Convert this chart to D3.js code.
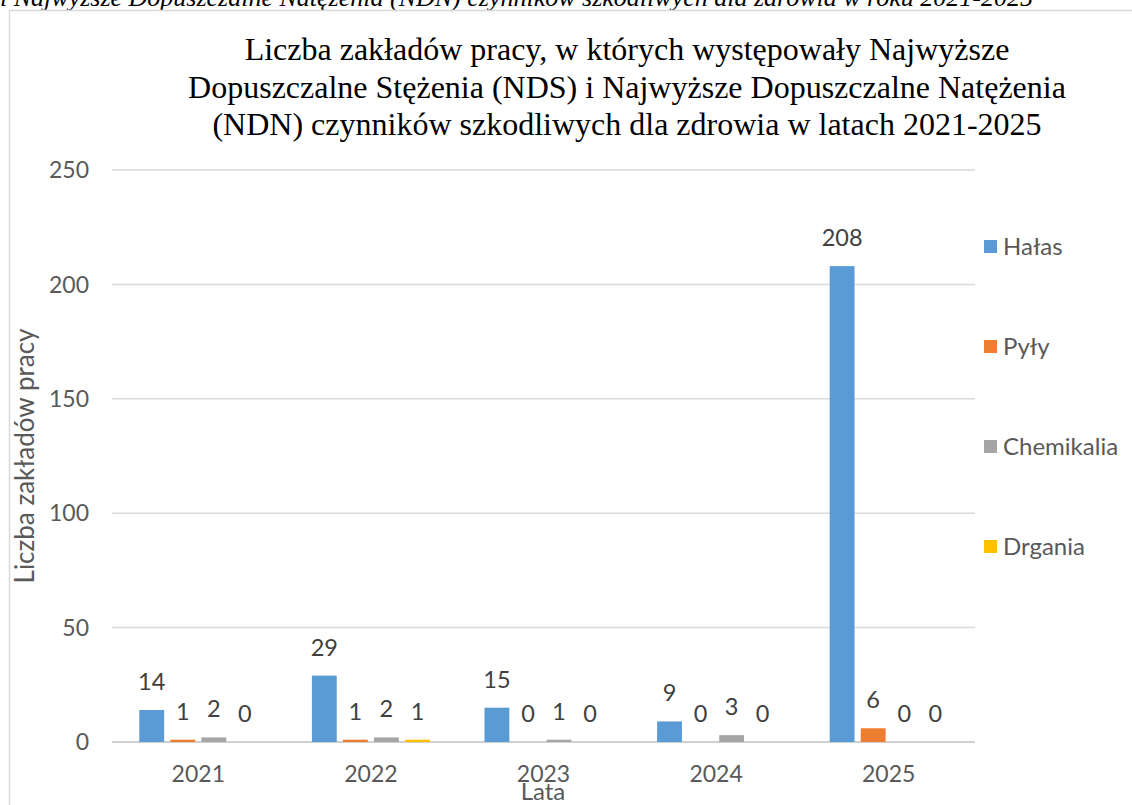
<!DOCTYPE html>
<html>
<head>
<meta charset="utf-8">
<script src="https://cdn.jsdelivr.net/npm/d3@7"></script>
<style>
  body { margin: 0; background: #fff; overflow: hidden; }
  svg { display: block; }
</style>
</head>
<body>
<svg id="chart" width="1132" height="805"></svg>
<script>
/** ------------- DATA -------------- */
const years = ["2021", "2022", "2023", "2024", "2025"];
const seriesNames = ["Hałas", "Pyły", "Chemikalia", "Drgania"];
const halas = [14, 29, 15, 9, 208];
const pyly = [1, 1, 0, 0, 6];
const chemikalia = [2, 2, 1, 3, 0];
const drgania = [0, 1, 0, 0, 0];
const yTicks = [0, 50, 100, 150, 200, 250];
const colors = ["#5B9BD5", "#ED7D31", "#A5A5A5", "#FFC000"];
const titleLines = [
    "Liczba zakładów pracy, w których występowały Najwyższe",
    "Dopuszczalne Stężenia (NDS) i Najwyższe Dopuszczalne Natężenia",
    "(NDN) czynników szkodliwych dla zdrowia w latach 2021-2025"
];
const captionText = "i Najwyższe Dopuszczalne Natężenia (NDN) czynników szkodliwych dla zdrowia w roku 2021-2025";

const seriesValues = [halas, pyly, chemikalia, drgania];

/** ------------- D3 GRAPH -------------- */
const svg = d3.select("#chart");
const plot = { left: 112, right: 975, top: 170, bottom: 742 };
const labelFont = "Lato, sans-serif";

// cropped caption from the document above the chart
svg.append("text")
    .attr("x", 0)
    .attr("y", 6)
    .attr("font-family", "Liberation Serif, Times New Roman, serif")
    .attr("font-style", "italic")
    .attr("font-size", 26)
    .attr("fill", "#000")
    .text(captionText);

// chart area border
svg.append("rect")
    .attr("x", 9.5)
    .attr("y", 10.5)
    .attr("width", 1140)
    .attr("height", 820)
    .attr("fill", "none")
    .attr("stroke", "#d9d9d9")
    .attr("stroke-width", 1.5);

const x = d3.scaleBand().domain(years).range([plot.left, plot.right]);
const x1 = d3.scaleBand().domain(seriesNames).range([0, 118]).paddingInner(0.2);
const y = d3.scaleLinear().domain([0, 250]).range([plot.bottom, plot.top]);

// gridlines
svg.append("g")
    .selectAll("line")
    .data(yTicks)
    .join("line")
    .attr("x1", plot.left)
    .attr("x2", plot.right)
    .attr("y1", (d) => y(d))
    .attr("y2", (d) => y(d))
    .attr("stroke", (d) => (d === 0 ? "#d0d0d0" : "#d9d9d9"))
    .attr("stroke-width", (d) => (d === 0 ? 2 : 1.5));

// y tick labels
svg.append("g")
    .selectAll("text")
    .data(yTicks)
    .join("text")
    .attr("x", 89)
    .attr("y", (d) => y(d))
    .attr("dy", "0.36em")
    .attr("text-anchor", "end")
    .attr("font-family", labelFont)
    .attr("font-size", 23)
    .attr("fill", "#595959")
    .text((d) => d);

// x tick labels
svg.append("g")
    .selectAll("text")
    .data(years)
    .join("text")
    .attr("x", (d) => x(d) + x.bandwidth() / 2)
    .attr("y", 782)
    .attr("text-anchor", "middle")
    .attr("font-family", labelFont)
    .attr("font-size", 23)
    .attr("fill", "#595959")
    .text((d) => d);

// axis titles
svg.append("text")
    .attr("x", 543)
    .attr("y", 800)
    .attr("text-anchor", "middle")
    .attr("font-family", labelFont)
    .attr("font-size", 24)
    .attr("fill", "#595959")
    .text("Lata");

svg.append("text")
    .attr("transform", "translate(34,456) rotate(-90)")
    .attr("text-anchor", "middle")
    .attr("font-family", labelFont)
    .attr("font-size", 26)
    .attr("fill", "#595959")
    .text("Liczba zakładów pracy");

// title
svg.append("g")
    .selectAll("text")
    .data(titleLines)
    .join("text")
    .attr("x", 627)
    .attr("y", (d, i) => 60 + i * 37.5)
    .attr("text-anchor", "middle")
    .attr("font-family", "Liberation Serif, Times New Roman, serif")
    .attr("font-size", 32)
    .attr("fill", "#000")
    .text((d) => d);

// bars
const rows = [];
years.forEach((yr, i) => {
    seriesNames.forEach((s, j) => {
        rows.push({ year: yr, series: s, value: seriesValues[j][i], color: colors[j] });
    });
});

const groupOffset = (x.bandwidth() - x1.range()[1]) / 2;

svg.append("g")
    .selectAll("rect")
    .data(rows)
    .join("rect")
    .attr("x", (d) => x(d.year) + groupOffset + x1(d.series))
    .attr("y", (d) => y(d.value))
    .attr("width", x1.bandwidth())
    .attr("height", (d) => y(0) - y(d.value))
    .attr("fill", (d) => d.color);

// value labels
svg.append("g")
    .selectAll("text")
    .data(rows)
    .join("text")
    .attr("x", (d) => x(d.year) + groupOffset + x1(d.series) + x1.bandwidth() / 2)
    .attr("y", (d) => y(d.value) - 20)
    .attr("text-anchor", "middle")
    .attr("font-family", labelFont)
    .attr("font-size", 23.5)
    .attr("fill", "#404040")
    .text((d) => d.value);

// legend
const legend = svg.append("g")
    .selectAll("g")
    .data(seriesNames)
    .join("g")
    .attr("transform", (d, i) => `translate(984,${246 + i * 100})`);

legend.append("rect")
    .attr("x", 0)
    .attr("y", -6)
    .attr("width", 13)
    .attr("height", 13)
    .attr("fill", (d, i) => colors[i]);

legend.append("text")
    .attr("x", 19)
    .attr("y", 0)
    .attr("dy", "0.36em")
    .attr("font-family", labelFont)
    .attr("font-size", 24)
    .attr("fill", "#595959")
    .text((d) => d);
</script>
</body>
</html>
